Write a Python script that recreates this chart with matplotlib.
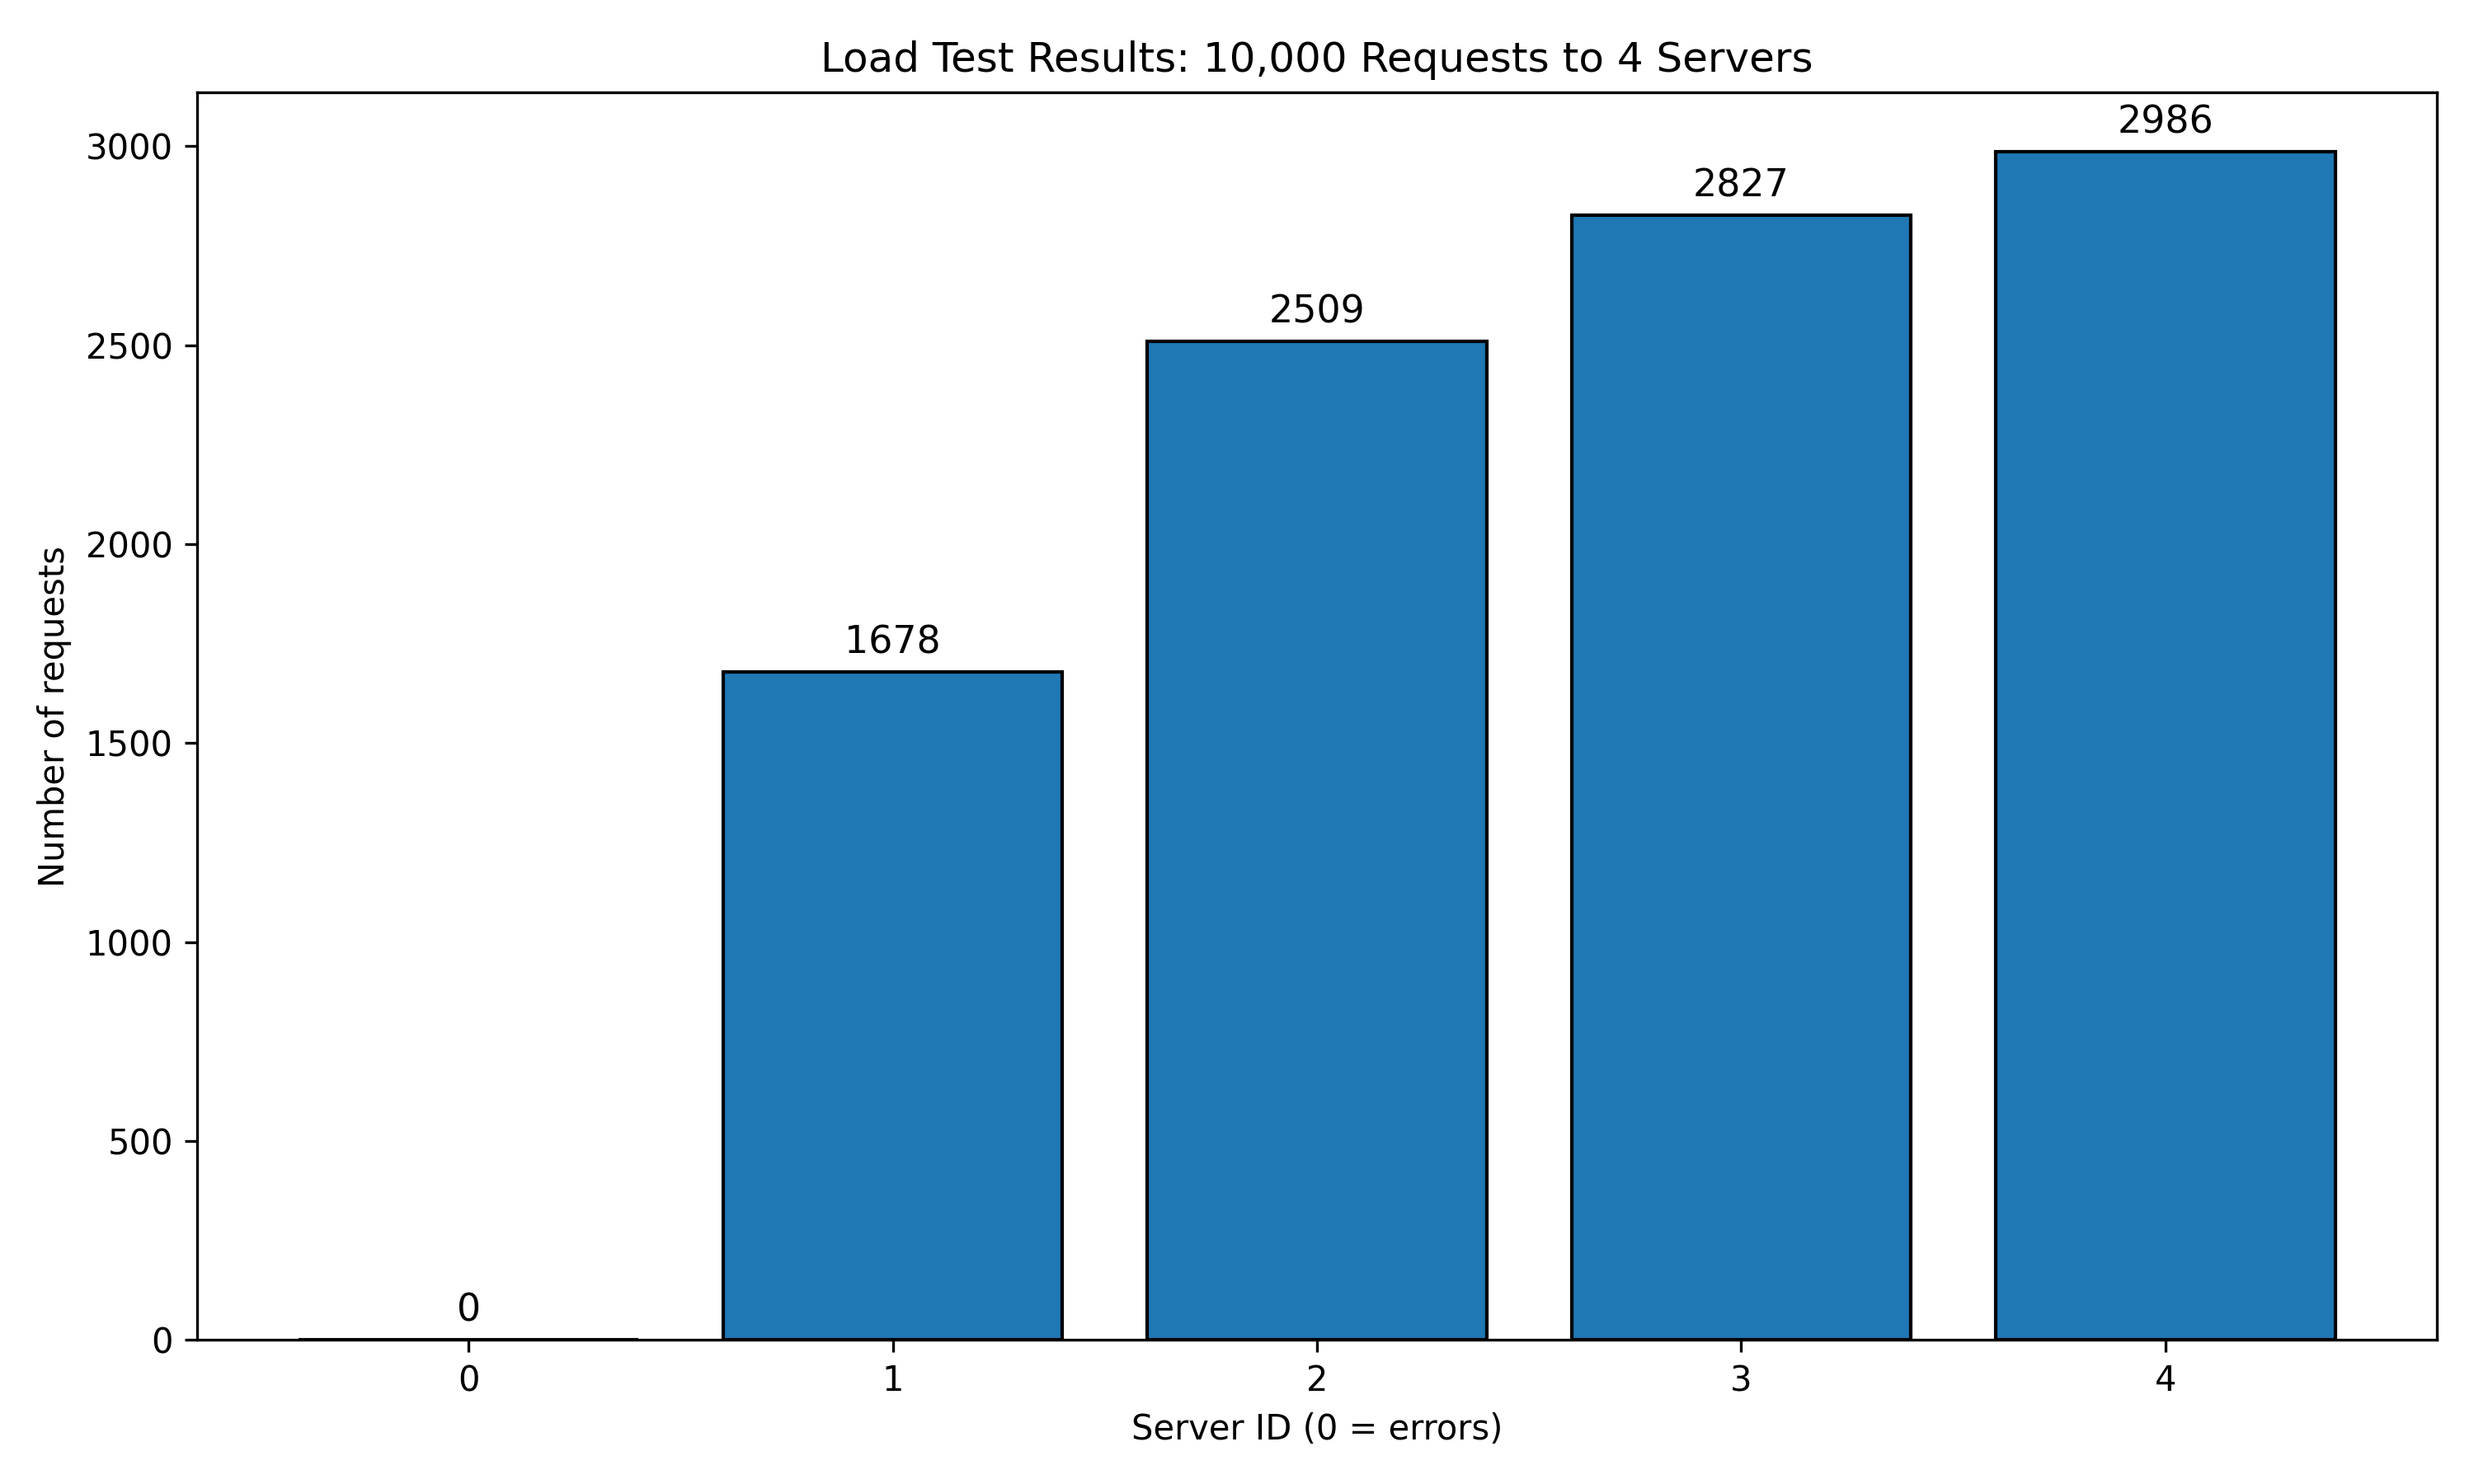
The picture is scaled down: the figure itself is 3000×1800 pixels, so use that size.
import numpy as np
import matplotlib
matplotlib.use('Agg')
from matplotlib import pyplot as plt

servers = [0, 1, 2, 3, 4]
counts = [0, 1678, 2509, 2827, 2986]

fig, ax = plt.subplots(figsize=(10, 6), dpi=300)
bars = ax.bar(servers, counts, edgecolor='black', color='#1f77b4')
ax.bar_label(bars, labels=[str(c) for c in counts], padding=3, fontsize=11)
ax.set_xticks(servers)
ax.set_xlabel('Server ID (0 = errors)')
ax.set_ylabel('Number of requests')
ax.set_title('Load Test Results: 10,000 Requests to 4 Servers')
fig.tight_layout()
fig.subplots_adjust(top=0.9378)
fig.savefig('out.png')
